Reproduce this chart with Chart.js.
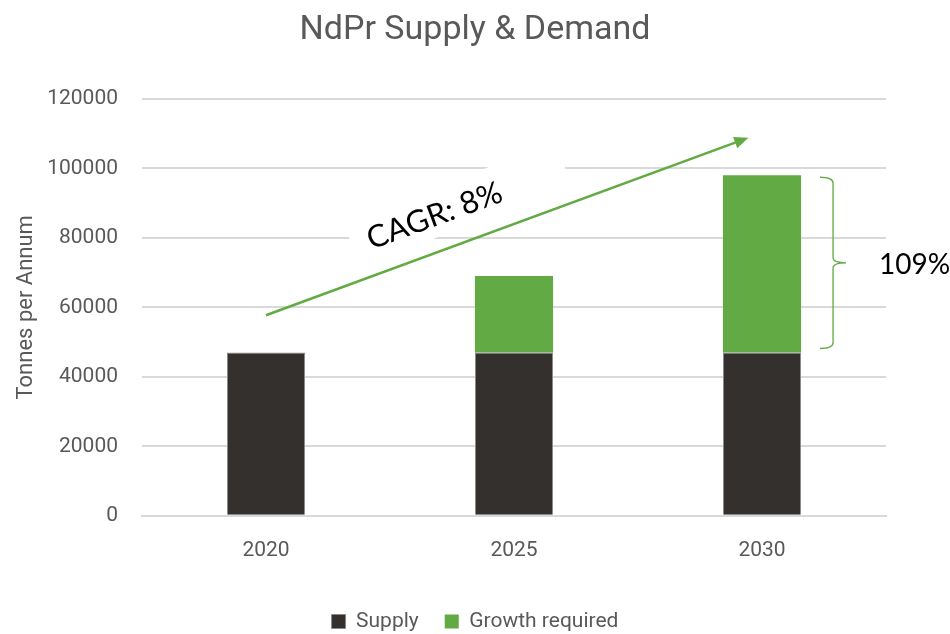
<!DOCTYPE html>
<html>
<head>
<meta charset="utf-8">
<script src="https://cdn.jsdelivr.net/npm/chart.js@4"></script>
<style>
  html, body { margin: 0; padding: 0; background: #fff; }
  #wrap { width: 950px; height: 634px; }
</style>
</head>
<body>
<div id="wrap"><canvas id="chart"></canvas></div>
<script>
// chart data
const years = ['2020', '2025', '2030'];
const supply = [47000, 47000, 47000];
const growthRequired = [0, 22000, 51000];
const yTicks = [0, 20000, 40000, 60000, 80000, 100000, 120000];

// annotations (data units: category index, tonnes)
const cagrArrow = [[0, 57700], [1.945, 108800]];
const cagrLabel = 'CAGR: 8%';
const cagrLabelAt = [0.68, 86300];
const bracketLabel = '109%';

const axisFont = "Roboto, sans-serif";
const grey = '#595959';
const green = '#62AA43';
const dark = '#34302D';

const annotations = {
    id: 'annotations',
    afterDraw(chart) {
        const ctx = chart.ctx;
        const x = chart.scales.x;
        const y = chart.scales.y;

        // arrow
        const x0 = x.getPixelForValue(cagrArrow[0][0]);
        const y0 = y.getPixelForValue(cagrArrow[0][1]);
        const x1 = x.getPixelForValue(cagrArrow[1][0]);
        const y1 = y.getPixelForValue(cagrArrow[1][1]);
        const ang = Math.atan2(y1 - y0, x1 - x0);

        // CAGR label with white box
        const lx = x.getPixelForValue(cagrLabelAt[0]);
        const ly = y.getPixelForValue(cagrLabelAt[1]);
        ctx.save();
        ctx.translate(lx, ly);
        ctx.rotate(ang);
        ctx.font = '31px Lato, sans-serif';
        const tw = ctx.measureText(cagrLabel).width;
        ctx.fillStyle = '#fff';
        ctx.fillRect(-tw / 2 - 17, -27, tw + 85, 48);
        ctx.fillStyle = '#000';
        ctx.textAlign = 'center';
        ctx.textBaseline = 'middle';
        ctx.fillText(cagrLabel, 0, 0);
        ctx.restore();

        ctx.save();
        ctx.strokeStyle = green;
        ctx.fillStyle = green;
        ctx.lineWidth = 2.5;
        const head = 14;
        ctx.beginPath();
        ctx.moveTo(x0, y0);
        ctx.lineTo(x1 - Math.cos(ang) * head * 0.8, y1 - Math.sin(ang) * head * 0.8);
        ctx.stroke();
        ctx.beginPath();
        ctx.moveTo(x1, y1);
        ctx.lineTo(x1 - head * Math.cos(ang) + 6 * Math.sin(ang), y1 - head * Math.sin(ang) - 6 * Math.cos(ang));
        ctx.lineTo(x1 - head * Math.cos(ang) - 6 * Math.sin(ang), y1 - head * Math.sin(ang) + 6 * Math.cos(ang));
        ctx.closePath();
        ctx.fill();
        ctx.restore();

        // bracket beside the 2030 bar
        const bar = chart.getDatasetMeta(1).data[2];
        const bx = bar.x + bar.width / 2;
        const top = y.getPixelForValue(supply[2] + growthRequired[2]) + 2;
        const bot = y.getPixelForValue(supply[2]) - 4;
        const mid = (top + bot) / 2;
        const xa = bx + 19, xb = bx + 32, xc = bx + 45;
        ctx.save();
        ctx.strokeStyle = green;
        ctx.lineWidth = 1.3;
        ctx.beginPath();
        ctx.moveTo(xa, top);
        ctx.quadraticCurveTo(xb, top, xb, top + 6);
        ctx.lineTo(xb, mid - 5);
        ctx.quadraticCurveTo(xb, mid, xc, mid);
        ctx.quadraticCurveTo(xb, mid, xb, mid + 5);
        ctx.lineTo(xb, bot - 6);
        ctx.quadraticCurveTo(xb, bot, xa, bot);
        ctx.stroke();
        ctx.font = '28px Lato, sans-serif';
        ctx.fillStyle = '#000';
        ctx.textBaseline = 'middle';
        ctx.fillText(bracketLabel, xc + 33, mid + 2);
        ctx.restore();
    }
};

new Chart(document.getElementById('chart'), {
    type: 'bar',
    data: {
        labels: years,
        datasets: [
            {
                label: 'Supply',
                data: supply,
                backgroundColor: dark,
                borderColor: '#8a8a8a',
                borderWidth: 1,
                barPercentage: 0.63,
                categoryPercentage: 0.5
            },
            {
                label: 'Growth required',
                data: growthRequired,
                backgroundColor: green,
                borderWidth: 0,
                barPercentage: 0.63,
                categoryPercentage: 0.5
            }
        ]
    },
    options: {
        responsive: true,
        maintainAspectRatio: false,
        animation: false,
        layout: { padding: { left: 0, right: 0, top: 10, bottom: -8 } },
        plugins: {
            title: {
                display: true,
                text: 'NdPr Supply & Demand',
                color: grey,
                font: { family: axisFont, size: 34, weight: 'normal' },
                padding: { top: 0, bottom: 48 }
            },
            legend: {
                position: 'bottom',
                labels: {
                    color: grey,
                    font: { family: axisFont, size: 21 },
                    boxWidth: 14,
                    boxHeight: 14,
                    padding: 26
                }
            },
            tooltip: { enabled: false }
        },
        scales: {
            x: {
                stacked: true,
                grid: { display: false },
                border: { color: '#D9D9D9', width: 2 },
                ticks: { color: grey, font: { family: axisFont, size: 21 }, padding: 14 },
                afterFit(scale) { scale.height += 8; }
            },
            y: {
                stacked: true,
                min: 0,
                max: 120000,
                afterBuildTicks(scale) {
                    scale.ticks = yTicks.map(v => ({ value: v }));
                },
                afterFit(scale) { scale.width = 142; },
                grid: { color: '#D9D9D9', lineWidth: 2, drawTicks: false },
                border: { display: false },
                ticks: {
                    color: grey,
                    font: { family: axisFont, size: 21 },
                    padding: 24,
                    callback: v => String(v)
                },
                title: {
                    display: true,
                    text: 'Tonnes per Annum',
                    color: grey,
                    font: { family: axisFont, size: 22 },
                    padding: { top: 13, bottom: 0 }
                }
            },
            // empty right-hand strip so title and legend centre on the full width
            spacer: {
                position: 'right',
                display: true,
                grid: { display: false },
                border: { display: false },
                ticks: { display: false },
                afterFit(scale) { scale.width = 64; }
            }
        }
    },
    plugins: [annotations]
});
</script>
</body>
</html>
